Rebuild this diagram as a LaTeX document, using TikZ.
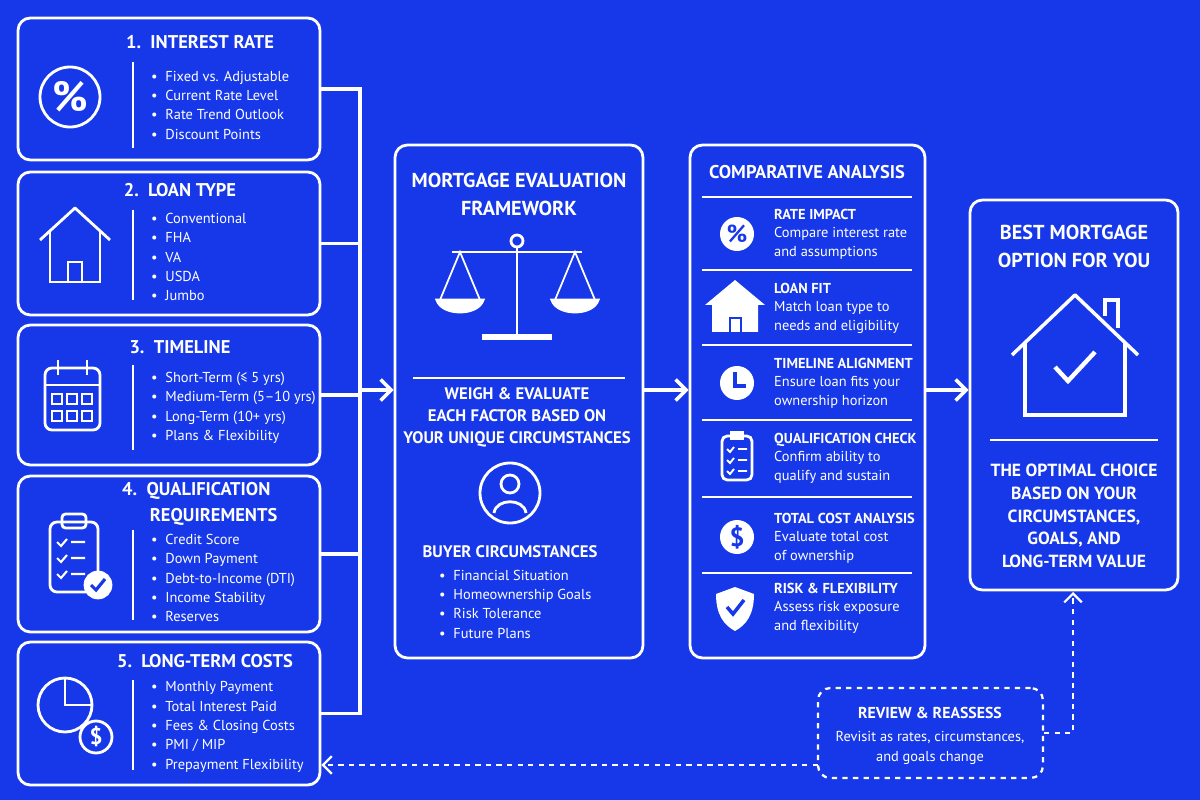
\documentclass[tikz,border=0pt]{standalone}
\usepackage{fontspec}
\setmainfont{PT Sans}
\usetikzlibrary{positioning,arrows.meta}
\definecolor{bg}{RGB}{22,56,232}
\tikzset{
         box/.style={draw=white, line width=1.6pt, rounded corners=7pt},
         ttl/.style={text=white, font=\bfseries\fontsize{10.5}{15}\selectfont, align=center},
         lst/.style={text=white, font=\fontsize{8.2}{11}\selectfont, align=left, anchor=west},
         sub/.style={text=white, font=\fontsize{8.2}{10.5}\selectfont, align=left, anchor=west},
         ico/.style={draw=white, line width=1.6pt},
         myarrow/.style={-{Straight Barb[length=6pt,width=12pt]}, white, line width=2pt},
         dasharrow/.style={-{Straight Barb[length=5pt,width=10pt]}, white, line width=1.3pt, dashed},
}

\begin{document}
\begin{tikzpicture}[x=0.02cm, y=-0.02cm]
    \fill[bg] (0,0) rectangle (1200,800);
    \useasboundingbox (0,0) rectangle (1200,800);

    % Faktoren
    \node[box, minimum width=6.04cm, minimum height=2.84cm] (f1) at (169,89) {};
    \node[box, minimum width=6.04cm, minimum height=2.86cm] (f2) at (169,243.5) {};
    \node[box, minimum width=6.04cm, minimum height=2.8cm] (f3) at (169,395) {};
    \node[box, minimum width=6.04cm, minimum height=3.12cm] (f4) at (169,554) {};
    \node[box, minimum width=6.04cm, minimum height=2.86cm] (f5) at (169,713.5) {};

    \node[ttl] (f1_title) at (200,42) {1.\ \ INTEREST RATE};
    \node[ttl] (f2_title) at (180,190) {2.\ \ LOAN TYPE};
    \node[ttl] (f3_title) at (180,347) {3.\ \ TIMELINE};
    \node[ttl, align=left, anchor=west] (f4_title) at (116,504) {4.\ \ QUALIFICATION\\\hspace{1.5em}REQUIREMENTS};
    \node[ttl] (f5_title) at (205,661) {5.\ \ LONG-TERM COSTS};

    \node[lst] (f1_list) at (145,105) {\textbullet\ \ Fixed vs. Adjustable\\\textbullet\ \ Current Rate Level\\\textbullet\ \ Rate Trend Outlook\\\textbullet\ \ Discount Points};
    \node[lst] (f2_list) at (145,257) {\textbullet\ \ Conventional\\\textbullet\ \ FHA\\\textbullet\ \ VA\\\textbullet\ \ USDA\\\textbullet\ \ Jumbo};
    \node[lst] (f3_list) at (145,408) {\textbullet\ \ Short-Term (≤ 5 yrs)\\\textbullet\ \ Medium-Term (5–10 yrs)\\\textbullet\ \ Long-Term (10+ yrs)\\\textbullet\ \ Plans \& Flexibility};
    \node[lst] (f4_list) at (145,578) {\textbullet\ \ Credit Score\\\textbullet\ \ Down Payment\\\textbullet\ \ Debt-to-Income (DTI)\\\textbullet\ \ Income Stability\\\textbullet\ \ Reserves};
    \node[lst] (f5_list) at (145,727) {\textbullet\ \ Monthly Payment\\\textbullet\ \ Total Interest Paid\\\textbullet\ \ Fees \& Closing Costs\\\textbullet\ \ PMI / MIP\\\textbullet\ \ Prepayment Flexibility};

    \foreach \ya/\yb in {62/148, 210/300, 365/450, 530/620, 680/770}
        \draw[white, line width=0.8pt] (133,\ya) -- (133,\yb);

    % Icons links
    \draw[ico] (70,97) circle[radius=30];
    \node[text=white, font=\bfseries\fontsize{24}{24}\selectfont] (pct) at (70,97) {\%};
    \draw[ico, line join=round] (40,240) -- (75,208) -- (110,240);
    \draw[ico] (50,232) -- (50,282) -- (100,282) -- (100,232);
    \draw[ico] (68,282) -- (68,262) -- (82,262) -- (82,282);
    \draw[ico, rounded corners=4pt] (45,368) rectangle (100,430);
    \draw[ico] (45,385) -- (100,385);
    \draw[ico] (58,360) -- (58,375) (87,360) -- (87,375);
    \foreach \cx in {52,67,82}
        \foreach \cy in {394,411}
            \draw[white, line width=1.3pt] (\cx,\cy) rectangle ++(10,10);
    \draw[ico, rounded corners=4pt] (50,522) rectangle (98,592);
    \draw[ico, rounded corners=2pt] (62,514) rectangle (86,528);
    \foreach \cy in {542,558,574}
        \draw[white, line width=1.2pt] (57,\cy) -- (61,\cy+4) -- (67,\cy-3) (71,\cy) -- (85,\cy);
    \filldraw[white] (98,585) circle[radius=14];
    \draw[bg, line width=1.8pt] (91,585) -- (96,590) -- (105,579);
    \draw[ico] (65,705) circle[radius=27];
    \draw[ico] (65,678) -- (65,705) -- (92,705);
    \filldraw[ico, fill=bg] (96,737) circle[radius=16];
    \node[text=white, font=\bfseries\fontsize{13}{13}\selectfont] (dol) at (96,737) {\$};

    % Verbindungen
    \coordinate (bus) at (360,390);
    \foreach \f in {f1,f2,f3,f4,f5}
        \draw[white, line width=2pt] (\f.east) -| (bus);

    % Mitte
    \node[box, minimum width=4.96cm, minimum height=10.26cm] (mid) at (519,401.5) {};
    \node[ttl, font=\bfseries\fontsize{11.5}{16}\selectfont] (mid_title) at (519,194) {MORTGAGE EVALUATION\\FRAMEWORK};
    \draw[ico] (517,244) -- (517,335);
    \draw[white, line width=3pt] (482,337) -- (552,337);
    \draw[ico] (452,252) -- (582,252);
    \filldraw[ico, fill=bg] (517,241) circle[radius=6];
    \foreach \px in {460,575} {
        \draw[white, line width=1pt] (\px-20,300) -- (\px,252) -- (\px+20,300);
        \filldraw[ico, fill=white] (\px-23,300) .. controls (\px-18,316) and (\px+18,316) .. (\px+23,300) -- cycle;
    }
    \draw[white, line width=1pt] (413,378) -- (625,378);
    \node[ttl, font=\bfseries\fontsize{9.5}{12.5}\selectfont] (weigh) at (517,417) {WEIGH \& EVALUATE\\EACH FACTOR BASED ON\\YOUR UNIQUE CIRCUMSTANCES};
    \draw[ico] (510,493) circle[radius=30];
    \draw[ico] (510,484) circle[radius=9];
    \draw[ico] (494,513) .. controls (496,498) and (524,498) .. (526,513);
    \node[ttl, font=\bfseries\fontsize{9.5}{12}\selectfont] (buyer) at (510,552) {BUYER CIRCUMSTANCES};
    \node[lst] (buyer_list) at (433,604) {\textbullet\ \ Financial Situation\\\textbullet\ \ Homeownership Goals\\\textbullet\ \ Risk Tolerance\\\textbullet\ \ Future Plans};

    % Vergleich
    \node[box, minimum width=4.7cm, minimum height=10.26cm] (comp) at (807.5,401.5) {};
    \node[ttl, font=\bfseries\fontsize{10.5}{14}\selectfont] (comp_title) at (807,172) {COMPARATIVE ANALYSIS};
    \foreach \cy in {197,270,345,420,497,573}
        \draw[white, line width=0.8pt] (702,\cy) -- (912,\cy);
    \node[sub] (c1) at (768,234) {\textbf{RATE IMPACT}\\Compare interest rate\\and assumptions};
    \node[sub] (c2) at (768,308) {\textbf{LOAN FIT}\\Match loan type to\\needs and eligibility};
    \node[sub] (c3) at (768,383) {\textbf{TIMELINE ALIGNMENT}\\Ensure loan fits your\\ownership horizon};
    \node[sub] (c4) at (768,458) {\textbf{QUALIFICATION CHECK}\\Confirm ability to\\qualify and sustain};
    \node[sub] (c5) at (768,538) {\textbf{TOTAL COST ANALYSIS}\\Evaluate total cost\\of ownership};
    \node[sub] (c6) at (768,608) {\textbf{RISK \& FLEXIBILITY}\\Assess risk exposure\\and flexibility};
    \fill[white] (737,234) circle[radius=17];
    \node[text=bg, font=\bfseries\fontsize{14}{14}\selectfont] (c1_icon) at (737,234) {\%};
    \fill[white] (705,305) -- (735,280) -- (765,305) -- (758,305) -- (758,332) -- (712,332) -- (712,305) -- cycle;
    \draw[bg, line width=1.6pt] (730,332) -- (730,318) -- (741,318) -- (741,332);
    \fill[white] (737,383) circle[radius=17];
    \draw[bg, line width=1.8pt] (735,372) -- (735,386) -- (746,386);
    \draw[ico, rounded corners=3pt] (722,436) rectangle (752,480);
    \fill[white] (730,431) rectangle (744,440);
    \foreach \cy in {449,460,471}
        \draw[white, line width=1.1pt] (727,\cy) -- (730,\cy+3) -- (734,\cy-2) (738,\cy) -- (747,\cy);
    \fill[white] (737,537) circle[radius=17];
    \node[text=bg, font=\bfseries\fontsize{15}{15}\selectfont] (c5_icon) at (737,537) {\$};
    \fill[white] (735,587) -- (754,594) .. controls (754,615) and (746,625) .. (735,631) .. controls (724,625) and (716,615) .. (716,594) -- cycle;
    \draw[bg, line width=2pt] (727,607) -- (733,614) -- (744,600);

    % Ergebnis
    \node[box, minimum width=4.16cm, minimum height=7.8cm] (best) at (1074,395) {};
    \node[ttl, font=\bfseries\fontsize{11.5}{16}\selectfont] (best_title) at (1074,246) {BEST MORTGAGE\\OPTION FOR YOU};
    \draw[ico, line width=2pt, line join=round] (1012,355) -- (1075,295) -- (1138,355);
    \draw[ico, line width=2pt] (1025,343) -- (1025,415) -- (1125,415) -- (1125,343);
    \draw[ico, line width=2pt] (1105,316) -- (1105,300) -- (1118,300) -- (1118,328);
    \draw[ico, line width=2.5pt] (1055,367) -- (1068,381) -- (1095,352);
    \draw[white, line width=1pt] (990,440) -- (1158,440);
    \node[ttl, font=\bfseries\fontsize{10}{13}\selectfont] (best_text) at (1074,516) {THE OPTIMAL CHOICE\\BASED ON YOUR\\CIRCUMSTANCES,\\GOALS, AND\\LONG-TERM VALUE};

    % Review
    \node[box, dashed, line width=1.3pt, minimum width=4.5cm, minimum height=1.8cm] (rev) at (930.5,733) {};
    \node[ttl, font=\bfseries\fontsize{9}{12}\selectfont] (rev_title) at (930,713) {REVIEW \& REASSESS};
    \node[ttl, font=\fontsize{8.2}{11}\selectfont] (rev_text) at (930,748) {Revisit as rates, circumstances,\\and goals change};

    \draw[myarrow] (bus) -- (bus -| mid.west);
    \draw[myarrow] (bus -| mid.east) -- (bus -| comp.west);
    \draw[myarrow] (bus -| comp.east) -- (bus -| best.west);
    \coordinate (up) at (1073,592);
    \draw[dasharrow] (rev.east) -| (up);
    \coordinate (rl) at (818,765);
    \draw[dasharrow] (rl) -- (rl -| f5.east);
\end{tikzpicture}
\end{document}
